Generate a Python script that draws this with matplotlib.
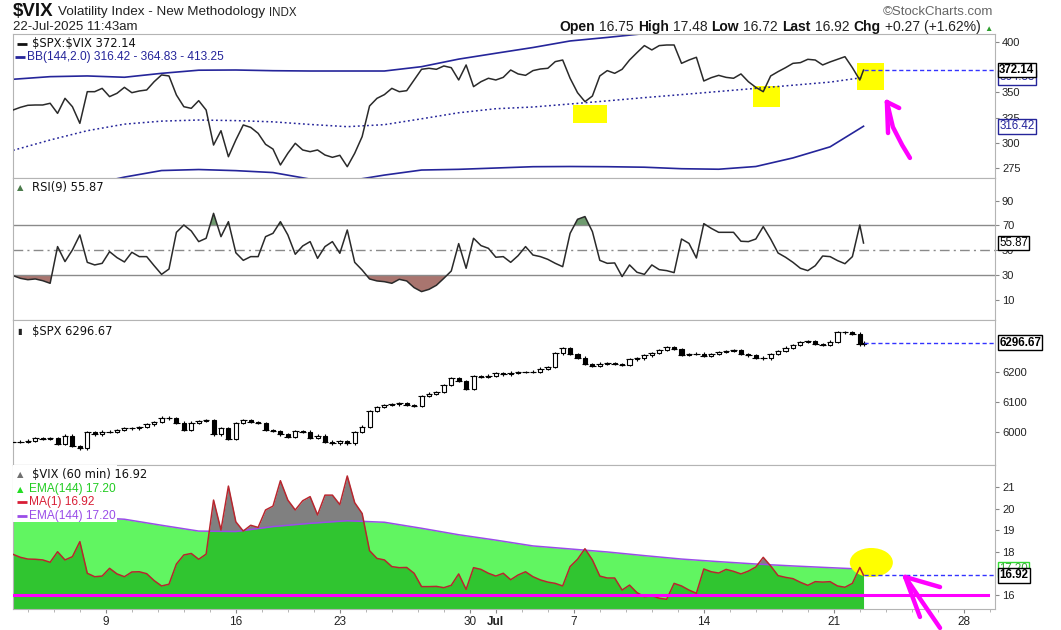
import numpy as np
import pandas as pd
import matplotlib
matplotlib.use('Agg')
import matplotlib.pyplot as plt
from matplotlib.patches import Rectangle, Ellipse
from matplotlib.offsetbox import TextArea, HPacker, AnnotationBbox

# ---- data: hourly bars, read every 2nd bar (last value = current bar) ----
ratio = [332.5, 335.2, 337.2, 337.5, 337.5, 339.2, 329.2, 344.1, 335.8, 319.3,
         350.7, 350.7, 354.0, 345.8, 349.1, 355.0, 349.7, 351.4, 352.4, 360.6,
         367.3, 366.3, 347.4, 335.8, 334.2, 341.8, 332.5, 297.8, 312.0, 286.2,
         302.8, 317.7, 315.3, 309.4, 298.5, 293.8, 278.0, 289.6, 299.5, 292.9,
         291.2, 292.9, 287.9, 285.6, 287.6, 276.3, 289.6, 306.1, 336.5, 344.1,
         347.8, 354.0, 350.7, 351.7, 362.3, 372.9, 373.9, 372.9, 376.2, 374.5,
         362.3, 377.2, 355.7, 360.6, 364.0, 362.3, 364.9, 372.2, 368.3, 366.9,
         371.6, 373.2, 373.9, 380.5, 382.1, 364.0, 349.7, 340.8, 346.4, 366.3,
         371.6, 368.9, 372.9, 382.1, 389.4, 396.4, 392.1, 396.4, 397.0, 397.0,
         378.8, 382.1, 384.8, 361.3, 364.6, 366.9, 364.9, 364.0, 368.3, 360.6,
         355.0, 350.7, 366.3, 370.6, 374.5, 378.8, 379.5, 382.8, 382.1, 377.2,
         380.2, 382.8, 385.4, 374.5, 362.3, 372.14]

rsi = [29.6, 27.4, 26.3, 26.9, 25.5, 23.4, 53.0, 40.9, 50.3, 62.4,
       40.3, 38.2, 39.5, 48.9, 44.1, 40.6, 48.4, 44.9, 44.9, 37.6,
       30.6, 34.9, 64.5, 70.4, 65.6, 57.0, 59.7, 79.8, 61.0, 73.1,
       48.0, 41.9, 44.9, 44.9, 61.0, 63.7, 73.1, 62.4, 46.8, 53.5,
       57.0, 43.5, 53.0, 57.0, 47.6, 66.4, 40.3, 34.1, 26.9, 25.3,
       24.7, 23.4, 26.6, 25.3, 19.9, 16.7, 18.5, 21.8, 27.4, 33.3,
       55.4, 35.5, 59.7, 53.8, 51.6, 44.4, 44.9, 40.3, 45.7, 53.0,
       46.2, 44.9, 42.7, 39.5, 36.8, 63.7, 75.0, 77.2, 65.1, 41.9,
       39.5, 39.8, 28.8, 38.2, 32.3, 30.6, 38.2, 34.4, 33.6, 32.0,
       59.1, 55.6, 43.8, 71.5, 67.7, 64.5, 64.5, 64.5, 57.3, 57.0,
       59.1, 69.1, 59.1, 47.8, 44.4, 40.3, 35.5, 33.6, 37.6, 45.4,
       44.9, 41.7, 39.2, 44.9, 70.4, 55.87]

spx = [5967, 5967, 5970, 5978, 5976, 5978, 5958, 5987, 5953, 5944,
       5998, 5991, 6000, 6000, 6006, 6011, 6011, 6016, 6024, 6033,
       6047, 6044, 6030, 6006, 6030, 6036, 6039, 5991, 6011, 5976,
       6028, 6038, 6033, 6028, 6006, 6002, 5991, 5983, 6003, 6000,
       5980, 5987, 5967, 5961, 5969, 5961, 5998, 6017, 6069, 6083,
       6089, 6091, 6096, 6088, 6087, 6118, 6127, 6132, 6156, 6178,
       6169, 6142, 6184, 6183, 6187, 6194, 6191, 6197, 6198, 6198,
       6200, 6210, 6216, 6261, 6278, 6258, 6247, 6226, 6219, 6227,
       6228, 6226, 6222, 6241, 6244, 6254, 6263, 6273, 6283, 6276,
       6257, 6259, 6260, 6253, 6259, 6266, 6269, 6272, 6259, 6254,
       6247, 6244, 6258, 6268, 6280, 6289, 6298, 6302, 6293, 6289,
       6300, 6331, 6333, 6327, 6291, 6296.67]

vix = [17.89, 17.75, 17.67, 17.66, 17.63, 17.52, 18.01, 17.63, 17.78, 18.48,
       17.01, 16.85, 16.88, 17.24, 16.98, 16.85, 17.07, 17.08, 16.99, 16.67,
       16.42, 16.50, 17.44, 17.86, 17.93, 17.66, 17.90, 20.41, 19.02, 21.06,
       19.40, 18.97, 19.24, 19.14, 19.95, 20.13, 21.31, 20.41, 19.95, 20.38,
       20.57, 19.72, 20.64, 20.64, 20.20, 21.53, 20.29, 19.79, 18.06, 17.70,
       17.63, 17.32, 17.27, 17.28, 17.01, 16.39, 16.39, 16.40, 16.34, 16.45,
       16.98, 16.26, 17.27, 17.19, 17.01, 16.88, 17.01, 16.71, 16.93, 17.08,
       16.85, 16.70, 16.60, 16.54, 16.42, 17.32, 17.66, 18.15, 17.63, 16.88,
       16.79, 16.79, 16.23, 16.46, 16.11, 15.92, 15.97, 15.85, 15.80, 16.54,
       16.42, 16.23, 16.08, 17.21, 17.08, 17.02, 17.19, 17.10, 16.98, 17.11,
       17.30, 17.75, 17.35, 16.90, 16.82, 16.76, 16.59, 16.45, 16.62, 16.60,
       16.62, 16.42, 16.36, 16.54, 17.28, 16.92]

# slow lines, read every 10 bars (last value = current bar)
bb_upper = [363.0, 365.6, 366.3, 365.0, 368.9, 372.0, 372.2, 371.5, 371.2, 371.2,
            371.2, 375.5, 383.0, 388.8, 394.5, 401.0, 404.5, 408.3, 409.5, 410.5,
            411.3, 412.0, 412.7, 413.25]
bb_mid = [292.5, 302.8, 312.0, 318.5, 321.5, 322.6, 322.0, 320.8, 318.2, 316.0,
          318.0, 323.8, 329.8, 333.8, 335.5, 338.5, 341.6, 344.8, 347.8, 350.9,
          354.0, 357.1, 360.2, 364.83]
bb_lower = [230.0, 245.0, 258.0, 266.0, 272.5, 273.5, 272.4, 270.5, 264.0, 262.0,
            268.0, 273.0, 273.7, 275.0, 276.3, 276.5, 276.3, 275.8, 274.3, 273.8,
            276.5, 285.0, 296.0, 316.42]
ema144 = [19.79, 19.70, 19.62, 19.52, 19.24, 18.97, 18.95, 19.18, 19.33, 19.45,
          19.38, 19.10, 18.80, 18.55, 18.28, 18.14, 18.00, 17.83, 17.67, 17.55,
          17.44, 17.35, 17.27, 17.20]

open_ = 16.75
high_ = 17.48
low_ = 16.72
last_ = 16.92
vix_line = 16.0   # drawn support line

# hand drawn marks (bar, value)
hl_ratio = [(150.8, 319.6, 9.1, 17.9), (199.2, 335.5, 7.3, 20.8), (227.2, 352.4, 7.3, 26.8)]
arrow_ratio = [[(241.5, 285.0), (239.4, 297.8), (236.9, 315.7), (235.3, 340.5)],
               [(235.3, 340.5), (235.6, 309.7)],
               [(235.3, 340.5), (238.6, 334.5)]]
arrow_vix = [[(240.2, 16.84), (249.6, 16.37)],
             [(240.2, 16.84), (244.2, 14.98)],
             [(240.2, 16.84), (249.6, 14.47)]]

# ---- x axis: 7 hourly bars per session ----
x2 = np.append(np.arange(0, 229, 2), 229)
x10 = np.append(np.arange(0, 221, 10), 229)
sessions = pd.bdate_range('2025-06-03', '2025-07-31')
sessions = sessions[~sessions.isin(pd.to_datetime(['2025-06-19', '2025-07-04']))]
bars_per_session = 7
first_bar = 3
session_start = np.arange(len(sessions)) * bars_per_session - first_bar
XMAX = 264.4

NAVY = '#25259a'
GRID = '#b4b4b4'
plt.rcParams['font.family'] = 'DejaVu Sans'

fig = plt.figure(figsize=(10.61, 6.30), dpi=100)
L, W = 13 / 1061, 982 / 1061


def panel(top, bottom):
    ax = fig.add_axes([L, 1 - bottom / 630, W, (bottom - top) / 630])
    for s in ax.spines.values():
        s.set_color(GRID)
    ax.yaxis.tick_right()
    ax.tick_params(axis='y', direction='out', length=3, color='#888888',
                   labelsize=8, labelcolor='#222222', pad=2)
    ax.set_xlim(0, XMAX)
    ax.set_xticks([])
    return ax


def tag(ax, y, s, edge, color='black', weight='bold'):
    ax.annotate(s, xy=(1, y), xycoords=('axes fraction', 'data'), xytext=(3, 0),
                textcoords='offset points', ha='left', va='center', fontsize=8.3,
                fontweight=weight, color=color, family='Liberation Sans',
                bbox=dict(boxstyle='square,pad=0.12', fc='white', ec=edge, lw=1),
                annotation_clip=False, zorder=10)


def legend_line(ax, x_px, y, color):
    x0 = (x_px - 13) / 982
    ax.plot([x0, x0 + 10 / 982], [y, y], transform=ax.transAxes, color=color,
            lw=2, solid_capstyle='butt', clip_on=False, zorder=11)


def ytick_font(ax):
    for t in ax.get_yticklabels():
        t.set_family('Liberation Sans')


# ---- panel 1: SPX:VIX ratio with Bollinger bands ----
ax1 = panel(34, 178)
ax1.set_ylim(265.1, 407.9)
ax1.set_yticks([275, 300, 325, 350, 400])
for bx, by, bw, bh in hl_ratio:
    ax1.add_patch(Rectangle((bx, by), bw, bh, color='#ffff00', lw=0, zorder=1))
ax1.plot(x10, bb_upper, color=NAVY, lw=1.2, zorder=2)
ax1.plot(x10, bb_lower, color=NAVY, lw=1.2, zorder=2)
ax1.plot(x10, bb_mid, color=NAVY, lw=1.1, ls=(0, (1.2, 1.8)), zorder=2)
ax1.plot(x2, ratio, color='#2a2a2a', lw=1.1, zorder=3)
ax1.plot([x2[-1], XMAX], [ratio[-1]] * 2, color='#3333ff', lw=1, ls=(0, (3, 2)), zorder=3)
for seg in arrow_ratio:
    xs, ys = zip(*seg)
    ax1.plot(xs, ys, color='#ff00ff', lw=3.2, solid_capstyle='round', zorder=6, clip_on=False)
legend_line(ax1, 17, 0.934, '#111111')
ax1.text(19 / 982, 0.934, r'\$SPX:\$VIX %.2f' % ratio[-1], transform=ax1.transAxes,
         fontsize=8.3, va='center', color='#111111', zorder=11)
legend_line(ax1, 15, 0.840, NAVY)
ax1.text(14 / 982, 0.840, 'BB(144,2.0) %.2f - %.2f - %.2f' % (bb_lower[-1], bb_mid[-1], bb_upper[-1]),
         transform=ax1.transAxes, fontsize=8.6, va='center', color=NAVY,
         family='Liberation Sans', zorder=11)
tag(ax1, bb_mid[-1], '%.2f' % bb_mid[-1], NAVY, color=NAVY, weight='normal')
tag(ax1, bb_lower[-1], '%.2f' % bb_lower[-1], NAVY, color=NAVY, weight='normal')
tag(ax1, ratio[-1], '%.2f' % ratio[-1], 'black')
ytick_font(ax1)

# ---- panel 2: RSI(9) ----
ax2 = panel(178, 320)
ax2.set_ylim(-6.2, 108.3)
ax2.set_yticks([10, 30, 50, 70, 90])
rsi_a = np.array(rsi)
ax2.fill_between(x2, rsi_a, 70, where=rsi_a > 70, interpolate=True, color='#6f9b6f', lw=0)
ax2.fill_between(x2, rsi_a, 30, where=rsi_a < 30, interpolate=True, color='#a9756f', lw=0)
ax2.axhline(70, color='#8a8a8a', lw=1)
ax2.axhline(30, color='#8a8a8a', lw=1)
ax2.axhline(50, color='#8a8a8a', lw=1, ls=(0, (7, 3, 1.5, 3)))
ax2.plot(x2, rsi_a, color='#2a2a2a', lw=1.1)
ax2.text(4 / 982, 0.932, '\u25b2', transform=ax2.transAxes, fontsize=6, va='center', color='#4a7a4a')
ax2.text(19 / 982, 0.932, 'RSI(9) %.2f' % rsi[-1], transform=ax2.transAxes,
         fontsize=8.3, va='center', color='#111111')
tag(ax2, rsi[-1], '%.2f' % rsi[-1], 'black', weight='normal')
ytick_font(ax2)

# ---- panel 3: SPX candles ----
ax3 = panel(320, 465)
ax3.set_ylim(5889, 6372)
ax3.set_yticks([6000, 6100, 6200])
close = np.array(spx, dtype=float)
opn = np.concatenate([[close[0]], close[:-1]])
lo = np.minimum(opn, close)
hi = np.maximum(opn, close)
ax3.vlines(x2, lo - 4, hi + 4, color='black', lw=0.8, zorder=2)
ax3.hlines(close, x2 - 0.9, x2 + 0.9, color='black', lw=0.8, zorder=2)
up = close >= opn
ax3.bar(x2[up], (hi - lo)[up], bottom=lo[up], width=1.1, color='white',
        edgecolor='black', lw=0.8, zorder=3)
ax3.bar(x2[~up], (hi - lo)[~up], bottom=lo[~up], width=1.1, color='black',
        edgecolor='black', lw=0.8, zorder=3)
ax3.plot([x2[-1], XMAX], [spx[-1]] * 2, color='#3333ff', lw=1, ls=(0, (3, 2)), zorder=3)
ax3.text(4 / 982, 0.924, '\u25ae', transform=ax3.transAxes, fontsize=6, va='center', color='#222222')
ax3.text(19 / 982, 0.924, '$SPX %.2f' % spx[-1], transform=ax3.transAxes,
         fontsize=8.3, va='center', color='#111111')
tag(ax3, spx[-1], '%.2f' % spx[-1], 'black')
ytick_font(ax3)

# ---- panel 4: VIX 60 min with EMA(144) ----
ax4 = panel(465, 609)
ax4.set_ylim(15.35, 22.04)
ax4.set_yticks([16, 18, 19, 20, 21])
ax4.fill_between(x2, vix, 15.0, color='#808080', lw=0, zorder=1)
ax4.fill_between(x10, ema144, 15.0, color='#00f000', alpha=0.62, lw=0, zorder=2)
ax4.plot(x10, ema144, color='#9a4de8', lw=1.1, zorder=3)
ax4.plot(x2, vix, color='#b8262e', lw=1.1, zorder=4)
ax4.plot([0, XMAX * 0.993], [vix_line] * 2, color='#ff00ff', lw=2.2, zorder=5)
ax4.plot([x2[-1], XMAX], [vix[-1]] * 2, color='#3333ff', lw=1, ls=(0, (3, 2)), zorder=4)
ax4.add_patch(Ellipse((231.1, 17.51), 11.6, 1.35, color='#ffff00', lw=0, zorder=3.5))
for seg in arrow_vix:
    xs, ys = zip(*seg)
    ax4.plot(xs, ys, color='#ff00ff', lw=3.2, solid_capstyle='round', zorder=6, clip_on=False)
ax4.add_patch(Rectangle((0, 0.604), 104 / 982, 0.396, transform=ax4.transAxes,
                        color='white', lw=0, zorder=7))
ax4.text(4 / 982, 0.931, '\u25b2', transform=ax4.transAxes, fontsize=6, va='center', color='#707070', zorder=8)
ax4.text(19 / 982, 0.931, '$VIX (60 min) %.2f' % last_, transform=ax4.transAxes,
         fontsize=8.3, va='center', color='#111111', zorder=8)
ax4.text(4 / 982, 0.833, '\u25b2', transform=ax4.transAxes, fontsize=6, va='center', color='#22dd22', zorder=8)
ax4.text(16 / 982, 0.833, 'EMA(144) %.2f' % ema144[-1], transform=ax4.transAxes, fontsize=8.6,
         va='center', color='#22cc22', family='Liberation Sans', zorder=8)
legend_line(ax4, 17, 0.743, '#d81e36')
ax4.text(16 / 982, 0.743, 'MA(1) %.2f' % vix[-1], transform=ax4.transAxes, fontsize=8.6,
         va='center', color='#d81e36', family='Liberation Sans', zorder=8)
legend_line(ax4, 17, 0.646, '#9a4de8')
ax4.text(16 / 982, 0.646, 'EMA(144) %.2f' % ema144[-1], transform=ax4.transAxes, fontsize=8.6,
         va='center', color='#9a4de8', family='Liberation Sans', zorder=8)
tag(ax4, ema144[-1], '%.2f' % ema144[-1], '#33dd33', color='#33aa33', weight='normal')
tag(ax4, vix[-1], '%.2f' % vix[-1], 'black')
ytick_font(ax4)

# date ticks
tick_pos, tick_lab = [], []
july_done = False
for d, s in zip(sessions, session_start):
    if s < 0 or s > XMAX:
        continue
    if d.month == 7 and not july_done:
        july_done = True
        tick_pos.append(s)
        tick_lab.append('Jul')
    elif d.weekday() == 0:
        tick_pos.append(s)
        tick_lab.append(str(d.day))
ax4.set_xticks(tick_pos)
ax4.set_xticklabels(tick_lab)
ax4.set_xticks(session_start[(session_start >= 0) & (session_start <= XMAX)], minor=True)
ax4.tick_params(axis='x', which='major', length=3, color='#888888', labelsize=8.5,
                labelcolor='#222222', pad=2)
ax4.tick_params(axis='x', which='minor', length=2, color='#aaaaaa')
for t in ax4.get_xticklabels():
    t.set_family('Liberation Sans')
    if t.get_text() == 'Jul':
        t.set_fontweight('bold')


# ---- header ----
def row(parts, xy, align):
    boxes = [TextArea(s, textprops=dict(fontsize=fs, fontweight=w, color=c,
                                        family='Liberation Sans'))
             for s, fs, w, c in parts]
    pack = HPacker(children=boxes, pad=0, sep=3, align='baseline')
    fig.add_artist(AnnotationBbox(pack, xy, xycoords='figure fraction',
                                  box_alignment=align, frameon=False, pad=0))


row([('$VIX', 13.5, 'bold', '#111111'),
     ('Volatility Index - New Methodology', 9.7, 'normal', '#222222'),
     ('INDX', 8.3, 'normal', '#222222')], (13 / 1061, 1 - 11 / 630), (0, 0.5))
fig.text(13 / 1061, 1 - 30.5 / 630, '22-Jul-2025 11:43am', fontsize=9.5,
         family='Liberation Sans', color='#222222', va='baseline')
fig.text(993 / 1061, 1 - 15 / 630, '\u00a9StockCharts.com', fontsize=9.5,
         family='Liberation Sans', color='#666666', va='baseline', ha='right')
row([('Open', 10, 'bold', '#111111'), ('%.2f' % open_, 10, 'normal', '#222222'),
     ('High', 10, 'bold', '#111111'), ('%.2f' % high_, 10, 'normal', '#222222'),
     ('Low', 10, 'bold', '#111111'), ('%.2f' % low_, 10, 'normal', '#222222'),
     ('Last', 10, 'bold', '#111111'), ('%.2f' % last_, 10, 'normal', '#222222'),
     ('Chg', 10, 'bold', '#111111'), ('+0.27 (+1.62%)', 10, 'normal', '#222222'),
     ('\u25b2', 6, 'normal', '#2e9e2e')], (993 / 1061, 1 - 27 / 630), (1, 0.5))

fig.savefig('out.png', dpi=100, facecolor='white')
